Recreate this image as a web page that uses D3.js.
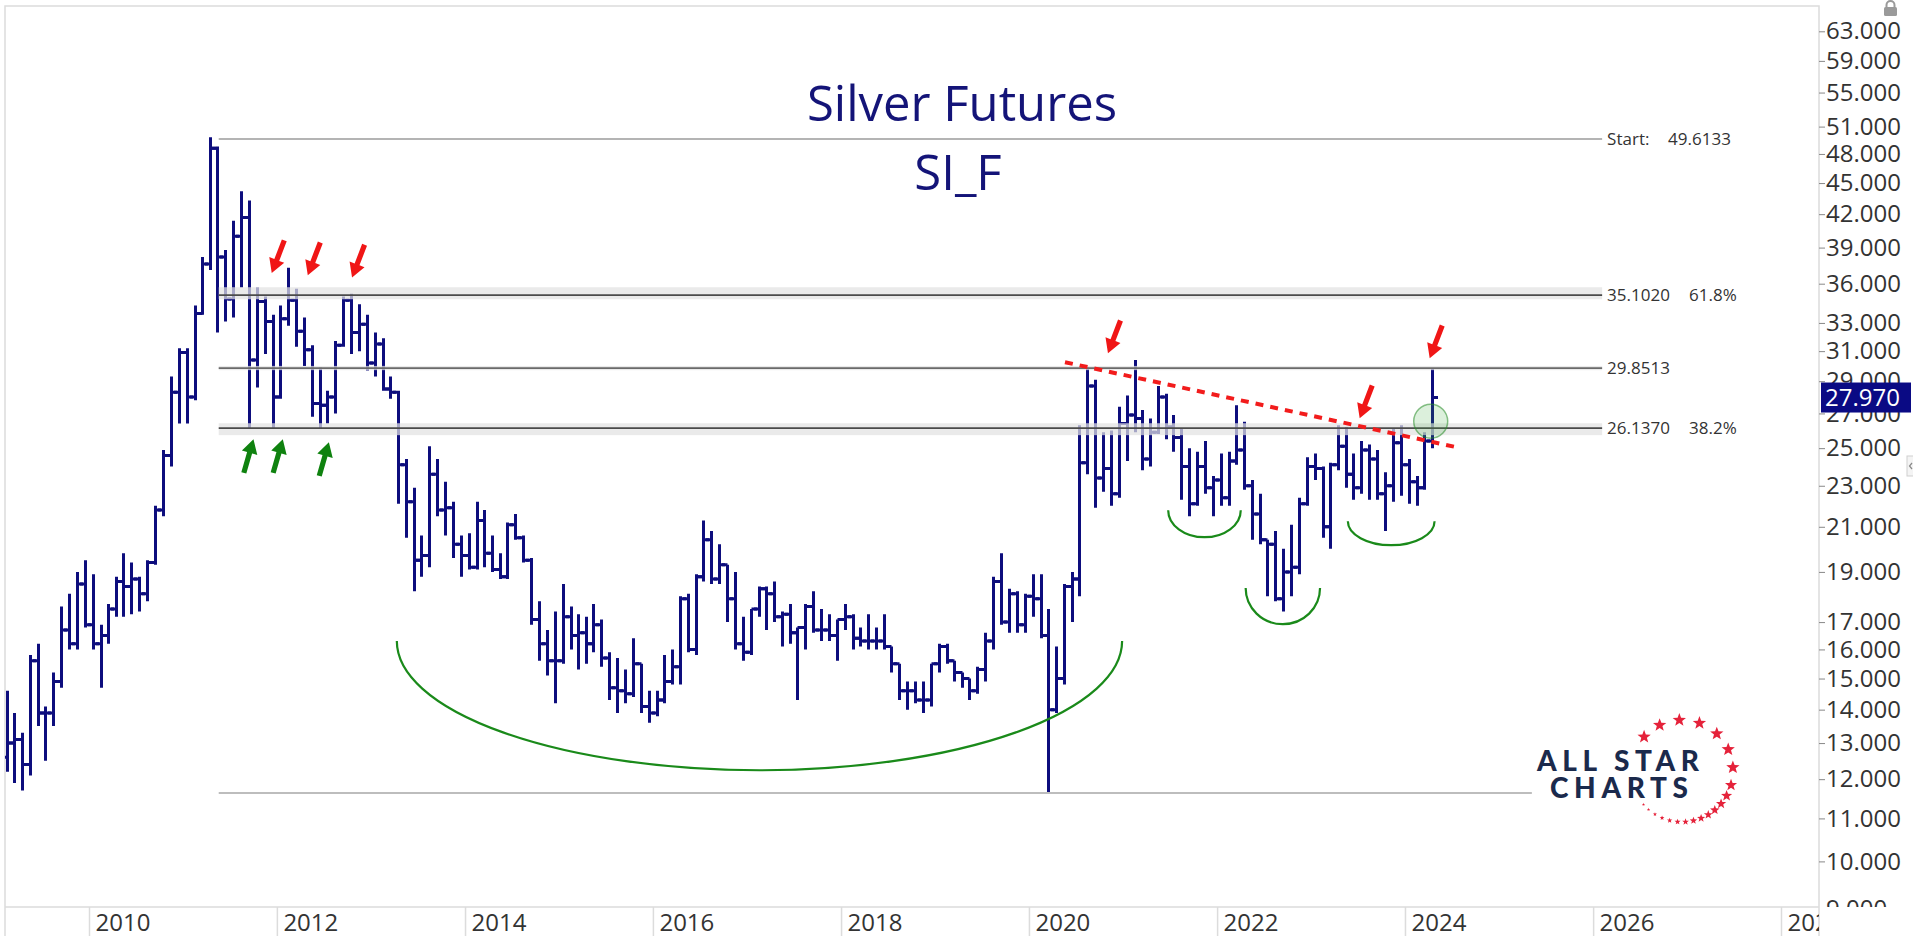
<!DOCTYPE html>
<html>
<head>
<meta charset="utf-8">
<script src="https://cdn.jsdelivr.net/npm/d3@7"></script>
<style>
  body { margin: 0; background: #fff; }
  svg { display: block; font-family: "Open Sans", sans-serif; }
</style>
</head>
<body>
<script>
var width = 1913, height = 936;
var plot = {left: 5, top: 6, right: 1819, bottom: 907};

// monthly bars, first one is Feb 2009
var firstMonth = "2009-02";

var opens = [
  12.6, 13.0, 13.1, 12.4, 15.6, 13.9, 13.9, 14.9, 16.7, 16.2, 18.5,
  16.9, 16.2, 16.5, 17.5, 18.6, 18.4, 18.7, 18.1, 19.4, 21.8, 24.6, 28.3,
  30.9, 28.0, 33.7, 37.6, 48.6, 38.2, 34.8, 40.0, 41.7, 30.4, 34.6, 33.1,
  28.0, 33.3, 34.7, 32.4, 31.1, 27.6, 27.5, 28.0, 31.4, 34.7, 32.3, 32.9,
  30.2, 31.5, 28.5, 28.3, 24.1, 22.2, 19.5, 19.7, 23.6, 21.8, 21.9, 20.2,
  19.7, 19.2, 21.3, 19.8, 19.1, 18.8, 21.1, 20.5, 19.5, 17.1, 16.2, 15.6,
  15.6, 17.2, 16.5, 16.6, 16.2, 16.9, 15.7, 14.7, 14.6, 14.5, 15.5, 14.1,
  13.9, 14.3, 14.9, 15.4, 17.9, 16.0, 18.8, 20.4, 18.7, 19.3, 17.9, 16.2,
  15.9, 17.5, 18.3, 18.1, 17.2, 17.3, 16.6, 16.8, 17.6, 16.7, 16.7, 16.5,
  17.1, 17.2, 16.4, 16.3, 16.3, 16.3, 16.1, 15.5, 14.6, 14.6, 14.3, 14.3,
  15.5, 16.1, 15.6, 15.2, 15.0, 14.6, 15.3, 16.3, 18.6, 17.0, 18.1, 16.9,
  18.0, 17.9, 16.5, 14.0, 15.0, 18.4, 18.7, 24.2, 28.7, 23.4, 23.9, 22.6,
  26.4, 26.9, 26.7, 24.4, 25.9, 28.0, 26.2, 25.6, 24.0, 22.1, 24.0, 22.9,
  23.3, 22.4, 24.3, 24.9, 23.0, 21.6, 20.4, 20.2, 17.9, 19.0, 19.2, 22.1,
  24.0, 23.9, 21.0, 24.1, 25.1, 23.6, 22.9, 24.9, 24.4, 22.6, 23.0, 25.3,
  24.1, 23.2, 22.9, 25.4
];
var highs = [
  14.6, 13.9, 13.3, 15.8, 16.2, 14.1, 15.2, 17.6, 18.1, 19.0, 19.5,
  18.9, 16.9, 17.7, 18.8, 19.8, 19.4, 18.8, 19.5, 22.0, 24.9, 29.3, 31.2,
  31.2, 34.3, 38.2, 49.8, 48.8, 38.8, 41.4, 44.2, 43.3, 35.7, 35.0, 33.6,
  34.3, 37.3, 35.6, 33.4, 31.4, 29.9, 28.4, 31.7, 35.0, 35.2, 34.4, 33.6,
  32.3, 31.9, 29.3, 28.4, 24.4, 22.9, 20.6, 25.1, 24.4, 23.2, 22.2, 20.6,
  20.7, 22.2, 21.8, 20.6, 19.8, 21.2, 21.6, 20.6, 19.6, 17.8, 16.7, 17.4,
  18.5, 17.6, 17.3, 17.2, 17.7, 17.1, 15.9, 15.7, 15.3, 16.4, 15.5, 14.6,
  14.6, 15.8, 16.0, 18.0, 18.1, 18.9, 21.3, 20.8, 20.2, 19.3, 19.0, 17.2,
  17.5, 18.4, 18.4, 18.6, 17.4, 17.7, 16.8, 17.7, 18.2, 17.5, 17.3, 17.1,
  17.7, 17.3, 16.8, 17.3, 16.8, 17.3, 16.1, 15.5, 14.9, 14.9, 14.9, 15.5,
  16.2, 16.2, 15.6, 15.2, 15.0, 15.4, 16.6, 18.8, 19.8, 18.3, 18.2, 18.1,
  18.9, 18.9, 17.5, 16.1, 18.5, 19.0, 26.3, 29.9, 29.1, 25.9, 26.0, 27.4,
  28.1, 30.4, 27.2, 26.7, 28.7, 28.2, 26.9, 26.1, 25.0, 24.8, 25.4, 23.5,
  24.7, 24.8, 27.5, 26.5, 23.3, 22.6, 20.4, 20.8, 20.0, 21.1, 22.4, 24.5,
  24.7, 24.0, 24.2, 26.3, 26.2, 24.7, 25.4, 25.2, 24.9, 23.7, 26.1, 26.3,
  24.4, 23.5, 25.9, 29.85
];
var lows = [
  12.2, 11.9, 11.7, 12.1, 13.5, 12.5, 13.5, 14.7, 16.0, 16.0, 16.8,
  16.0, 14.7, 16.2, 17.2, 17.2, 17.3, 17.4, 17.8, 19.3, 21.5, 24.0, 26.4,
  26.4, 27.8, 33.6, 37.1, 32.3, 33.1, 33.4, 35.7, 26.1, 28.6, 30.8, 26.1,
  27.9, 32.8, 31.3, 30.0, 26.8, 26.1, 26.4, 27.0, 31.3, 30.8, 31.0, 29.7,
  29.3, 28.4, 27.9, 22.1, 20.5, 18.2, 18.8, 19.2, 21.5, 20.6, 19.6, 18.8,
  19.1, 19.1, 19.2, 19.0, 18.7, 18.7, 20.4, 19.4, 16.9, 15.6, 15.1, 14.2,
  15.5, 16.0, 15.3, 15.5, 15.9, 15.4, 14.3, 13.9, 14.2, 14.4, 13.9, 13.6,
  13.8, 14.2, 14.8, 14.8, 15.9, 15.8, 18.6, 18.5, 18.5, 17.0, 16.0, 15.6,
  15.8, 17.2, 16.7, 17.0, 16.1, 16.2, 14.3, 16.0, 16.6, 16.3, 16.3, 15.6,
  16.7, 16.0, 16.1, 16.0, 16.0, 16.0, 15.2, 14.3, 14.0, 14.2, 13.9, 14.1,
  15.2, 15.5, 14.9, 14.7, 14.3, 14.5, 14.9, 16.0, 16.9, 16.6, 16.6, 16.6,
  17.2, 16.4, 11.64, 13.9, 14.8, 17.0, 18.0, 23.6, 21.9, 22.7, 22.0, 22.4,
  24.3, 25.9, 23.8, 24.0, 25.8, 25.5, 24.8, 22.3, 21.5, 22.0, 22.6, 21.5,
  22.0, 22.0, 24.1, 22.8, 20.4, 20.2, 18.0, 17.8, 17.4, 18.0, 18.9, 22.0,
  23.3, 20.5, 20.0, 23.8, 22.9, 22.3, 22.6, 22.3, 22.3, 20.8, 22.2, 22.5,
  22.1, 22.0, 22.8, 25.0
];
var closes = [
  13.0, 13.1, 12.4, 15.6, 13.9, 13.9, 14.9, 16.7, 16.2, 18.5, 16.9,
  16.2, 16.5, 17.5, 18.6, 18.4, 18.7, 18.1, 19.4, 21.8, 24.6, 28.3, 30.9,
  28.0, 33.7, 37.6, 48.6, 38.2, 34.8, 40.0, 41.7, 30.4, 34.6, 33.1, 28.0,
  33.3, 34.7, 32.4, 31.1, 27.6, 27.5, 28.0, 31.4, 34.7, 32.3, 32.9, 30.2,
  31.5, 28.5, 28.3, 24.1, 22.2, 19.5, 19.7, 23.6, 21.8, 21.9, 20.2, 19.7,
  19.2, 21.3, 19.8, 19.1, 18.8, 21.1, 20.5, 19.5, 17.1, 16.2, 15.6, 15.6,
  17.2, 16.5, 16.6, 16.2, 16.9, 15.7, 14.7, 14.6, 14.5, 15.5, 14.1, 13.9,
  14.3, 14.9, 15.4, 17.9, 16.0, 18.8, 20.4, 18.7, 19.3, 17.9, 16.2, 15.9,
  17.5, 18.3, 18.1, 17.2, 17.3, 16.6, 16.8, 17.6, 16.7, 16.7, 16.5, 17.1,
  17.2, 16.4, 16.3, 16.3, 16.3, 16.1, 15.5, 14.6, 14.6, 14.3, 14.3, 15.5,
  16.1, 15.6, 15.2, 15.0, 14.6, 15.3, 16.3, 18.6, 17.0, 18.1, 16.9, 18.0,
  17.9, 16.5, 14.0, 15.0, 18.4, 18.7, 24.2, 28.7, 23.4, 23.9, 22.6, 26.4,
  26.9, 26.7, 24.4, 25.9, 28.0, 26.2, 25.6, 24.0, 22.1, 24.0, 22.9, 23.3,
  22.4, 24.3, 24.9, 23.0, 21.6, 20.4, 20.2, 17.9, 19.0, 19.2, 22.1, 24.0,
  23.9, 21.0, 24.1, 25.1, 23.6, 22.9, 24.9, 24.4, 22.6, 23.0, 25.3, 24.1,
  23.2, 22.9, 25.4, 27.97
];

var yTicks = [9, 10, 11, 12, 13, 14, 15, 16, 17, 19, 21, 23, 25, 27, 29, 31, 33, 36, 39, 42, 45, 48, 51, 55, 59, 63];
var lastPrice = 27.970;

// retracement levels
var fibValues = [49.6133, 35.1020, 29.8513, 26.1370];
var fibLabels = ["Start:", "35.1020", "29.8513", "26.1370"];
var fibRight  = ["49.6133", "61.8%", "", "38.2%"];
var fibBands  = [null, [34.78, 35.72], [29.72, 30.0], [25.73, 26.42]];
var lowValue = 11.64;

// annotations (date, value)
var trendLine = [["2020-05-20", 30.25], ["2024-07-20", 25.05]];
var redArrows = [["2011-12-12", 36.86], ["2012-04-30", 36.69], ["2012-10-19", 36.5],
                 ["2020-11-03", 30.86], ["2023-07-09", 26.72], ["2024-04-06", 30.52]];
var greenArrows = [["2011-10-02", 25.5], ["2012-01-24", 25.5], ["2012-07-21", 25.33]];
// arcs: start date, end date, top value, bottom value
var arcs = [["2013-04-11", "2020-12-28", 16.3, 12.24],
            ["2021-06-25", "2022-04-03", 21.79, 20.52],
            ["2022-04-22", "2023-02-05", 18.33, 16.92],
            ["2023-05-24", "2024-04-25", 21.26, 20.16]];
var breakoutCircle = ["2024-04-10", 26.54];

var parseDay = d3.timeParse("%Y-%m-%d");
var parseMonth = d3.timeParse("%Y-%m");

var x = d3.scaleTime()
    .domain([new Date(2010, 0, 1), new Date(2028, 0, 1)])
    .range([89, 1781]);
var y = d3.scaleLog().domain([10, 63]).range([861.4, 31.3]);

var start = parseMonth(firstMonth);
var data = opens.map(function(o, i) {
  var m = d3.timeMonth.offset(start, i);
  return {date: d3.timeDay.offset(m, 14), o: o, h: highs[i], l: lows[i], c: closes[i]};
});

var svg = d3.select("body").append("svg")
    .attr("width", width)
    .attr("height", height);

var defs = svg.append("defs");
defs.append("clipPath").attr("id", "plotClip").append("rect")
    .attr("x", plot.left).attr("y", plot.top)
    .attr("width", plot.right - plot.left).attr("height", plot.bottom - plot.top);
defs.append("clipPath").attr("id", "yClip").append("rect")
    .attr("x", plot.right).attr("y", 0)
    .attr("width", width - plot.right).attr("height", plot.bottom);
defs.append("clipPath").attr("id", "xClip").append("rect")
    .attr("x", plot.left).attr("y", plot.bottom)
    .attr("width", plot.right - plot.left).attr("height", height - plot.bottom);

// frame
svg.append("path")
    .attr("d", "M" + plot.left + "," + height + "V" + plot.top + "H" + plot.right + "V" + height
         + "M" + plot.left + "," + plot.bottom + "H" + plot.right)
    .attr("fill", "none").attr("stroke", "#dcdcdc").attr("stroke-width", 1.5);

// title
svg.append("text").attr("x", 962).attr("y", 121).attr("text-anchor", "middle")
    .attr("font-size", 49).attr("fill", "#141478").text("Silver Futures");
svg.append("text").attr("x", 958).attr("y", 190).attr("text-anchor", "middle")
    .attr("font-size", 49).attr("fill", "#141478").text("SI_F");

var g = svg.append("g").attr("clip-path", "url(#plotClip)");

// OHLC bars
g.append("g").selectAll("path")
    .data(data)
  .enter().append("path")
    .attr("d", function(d) {
      var cx = Math.round(x(d.date)) + 0.5;
      return "M" + cx + "," + y(d.h) + "V" + y(d.l)
           + "M" + (cx - 5.5) + "," + y(d.o) + "H" + cx
           + "M" + cx + "," + y(d.c) + "H" + (cx + 5.5);
    })
    .attr("fill", "none")
    .attr("stroke", "#0d0d7d")
    .attr("stroke-width", 3);

// level bands and lines
var lx1 = x(parseDay("2011-05-20")), lx2 = x(parseDay("2026-02-05"));
fibValues.forEach(function(v, i) {
  if (fibBands[i]) {
    g.append("rect")
        .attr("x", lx1).attr("width", lx2 - lx1)
        .attr("y", y(fibBands[i][1]))
        .attr("height", y(fibBands[i][0]) - y(fibBands[i][1]))
        .attr("fill", "#e2e2e2").attr("fill-opacity", 0.72);
  }
  var col = i === 0 ? "#b4b4b4" : (i === 2 ? "#6a6a6a" : "#4a4a4a");
  g.append("line")
      .attr("x1", lx1).attr("x2", lx2)
      .attr("y1", y(v)).attr("y2", y(v))
      .attr("stroke", col).attr("stroke-width", i === 0 ? 2 : 1.6);
  svg.append("text")
      .attr("x", lx2 + 5).attr("y", y(v)).attr("dy", "0.35em")
      .attr("font-size", 17).attr("fill", "#333")
      .text(fibLabels[i]);
  if (fibRight[i]) {
    svg.append("text")
        .attr("x", i === 0 ? lx2 + 66 : lx2 + 87).attr("y", y(v)).attr("dy", "0.35em")
        .attr("font-size", 17).attr("fill", "#333").text(fibRight[i]);
  }
});
g.append("line")
    .attr("x1", lx1).attr("x2", x(parseDay("2025-05-08")))
    .attr("y1", y(lowValue)).attr("y2", y(lowValue))
    .attr("stroke", "#bdbdbd").attr("stroke-width", 2);

// green arcs
arcs.forEach(function(a) {
  var x1 = x(parseDay(a[0])), x2 = x(parseDay(a[1]));
  var yt = y(a[2]), yb = y(a[3]);
  g.append("path")
      .attr("d", "M" + x1 + "," + yt + "A" + ((x2 - x1) / 2) + "," + (yb - yt) + " 0 0 0 " + x2 + "," + yt)
      .attr("fill", "none").attr("stroke", "#1a8a1a").attr("stroke-width", 2.2);
});

// dotted resistance line
g.append("line")
    .attr("x1", x(parseDay(trendLine[0][0]))).attr("y1", y(trendLine[0][1]))
    .attr("x2", x(parseDay(trendLine[1][0]))).attr("y2", y(trendLine[1][1]))
    .attr("stroke", "#f21c1c").attr("stroke-width", 4)
    .attr("stroke-dasharray", "8,7");

// breakout circle
g.append("circle")
    .attr("cx", x(parseDay(breakoutCircle[0]))).attr("cy", y(breakoutCircle[1]))
    .attr("r", 17)
    .attr("fill", "rgba(60,170,60,0.18)")
    .attr("stroke", "rgba(40,140,40,0.55)").attr("stroke-width", 1.5);

// arrows
var arrowShape = "0,0 -8,-14 -2.6,-14 -2.6,-35 2.6,-35 2.6,-14 8,-14";
g.selectAll(".red-arrow").data(redArrows).enter().append("polygon")
    .attr("points", arrowShape)
    .attr("transform", function(d) {
      return "translate(" + x(parseDay(d[0])) + "," + y(d[1]) + ") rotate(21)";
    })
    .attr("fill", "#f01616");
g.selectAll(".green-arrow").data(greenArrows).enter().append("polygon")
    .attr("points", arrowShape)
    .attr("transform", function(d) {
      return "translate(" + x(parseDay(d[0])) + "," + y(d[1]) + ") rotate(196)";
    })
    .attr("fill", "#0f820f");

// x axis (clip on an outer group so the clip rect stays in page coordinates)
var xAxisG = svg.append("g").attr("clip-path", "url(#xClip)")
  .append("g")
    .attr("transform", "translate(0," + plot.bottom + ")")
    .call(d3.axisBottom(x).ticks(d3.timeYear.every(2)).tickFormat(d3.timeFormat("%Y")).tickSize(29));
xAxisG.select(".domain").remove();
xAxisG.selectAll(".tick line").attr("stroke", "#dcdcdc").attr("stroke-width", 1.5);
xAxisG.selectAll(".tick text")
    .attr("x", 6).attr("y", 24).attr("dy", "0")
    .attr("text-anchor", "start")
    .attr("font-size", 24).attr("font-family", "Open Sans, sans-serif").attr("fill", "#333");

// y axis
var yAxisG = svg.append("g").attr("clip-path", "url(#yClip)")
  .append("g")
    .attr("transform", "translate(" + plot.right + ",0)")
    .call(d3.axisRight(y).tickValues(yTicks).tickFormat(d3.format(".3f")).tickSize(6).tickPadding(1));
yAxisG.select(".domain").remove();
yAxisG.selectAll(".tick line").attr("stroke", "#888");
yAxisG.selectAll(".tick text")
    .attr("font-size", 24).attr("font-family", "Open Sans, sans-serif").attr("fill", "#333");

// last price tag
var py = y(lastPrice);
svg.append("rect").attr("x", plot.right + 2).attr("y", py - 15)
    .attr("width", 90).attr("height", 30).attr("fill", "#0a0a84");
svg.append("text").attr("x", plot.right + 6).attr("y", py).attr("dy", "0.35em")
    .attr("font-size", 24).attr("fill", "#fff").text(lastPrice.toFixed(3));

// lock icon and side tab
var lock = svg.append("g").attr("fill", "#9a9a9a");
lock.append("rect").attr("x", 1884).attr("y", 7).attr("width", 13).attr("height", 9).attr("rx", 1.5);
lock.append("path").attr("d", "M1886.5,7.5V5a4,4 0 0 1 8,0V7.5")
    .attr("fill", "none").attr("stroke", "#9a9a9a").attr("stroke-width", 2);
svg.append("rect").attr("x", 1907).attr("y", 456).attr("width", 8).attr("height", 20)
    .attr("fill", "#f4f4f4").attr("stroke", "#cfcfcf");
svg.append("path").attr("d", "M1912,463L1909.5,466L1912,469")
    .attr("fill", "none").attr("stroke", "#888").attr("stroke-width", 1.2);

// logo
var logo = svg.append("g");
logo.append("text").attr("x", 1537).attr("y", 771)
    .attr("font-family", "Lato, sans-serif").attr("font-weight", 900).attr("font-size", 28)
    .attr("textLength", 162).attr("lengthAdjust", "spacing")
    .attr("fill", "#1b2a4c").text("ALL STAR");
logo.append("text").attr("x", 1550).attr("y", 798)
    .attr("font-family", "Lato, sans-serif").attr("font-weight", 900).attr("font-size", 28)
    .attr("textLength", 138).attr("lengthAdjust", "spacing")
    .attr("fill", "#1b2a4c").text("CHARTS");
var starAngles = [-138, -116, -93, -70, -47, -25, -4, 16, 29, 40, 50, 59, 68, 77, 86, 95, 104, 113, 122, 131, 139];
function starPath(r) {
  var pts = [];
  for (var k = 0; k < 10; k++) {
    var a = -Math.PI / 2 + k * Math.PI / 5;
    var rr = k % 2 === 0 ? r : r * 0.42;
    pts.push([rr * Math.cos(a), rr * Math.sin(a)]);
  }
  return "M" + pts.join("L") + "Z";
}
starAngles.forEach(function(a) {
  var rad = a * Math.PI / 180;
  var r = a <= 0 ? 7 : Math.max(1.6, 7 - (a / 139) * 5.6);
  logo.append("path")
      .attr("d", starPath(r))
      .attr("transform", "translate(" + (1682 + 51 * Math.cos(rad)) + "," + (771 + 51 * Math.sin(rad)) + ")")
      .attr("fill", "#e5223a");
});
</script>
</body>
</html>
